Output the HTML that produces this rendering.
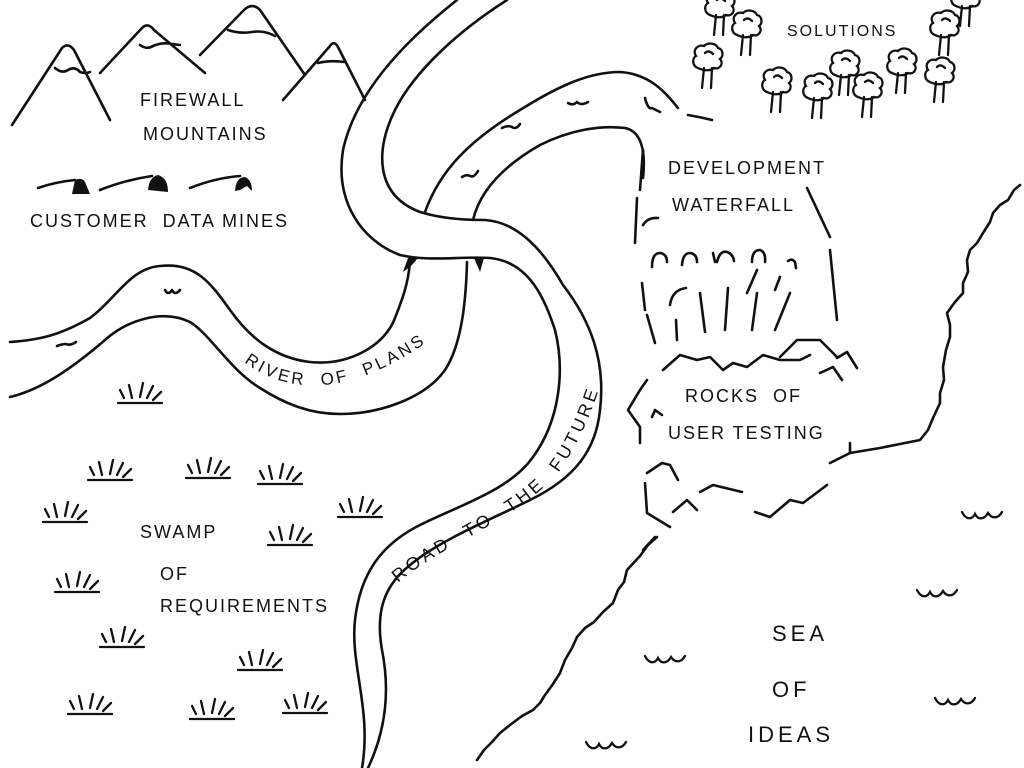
<!DOCTYPE html>
<html><head><meta charset="utf-8"><style>
html,body{margin:0;padding:0;background:#fff;}
svg{display:block}
text{font-family:"Liberation Sans",sans-serif;fill:#111;font-size:18px;letter-spacing:2px}
</style></head><body>
<svg width="1024" height="768" viewBox="0 0 1024 768" xmlns="http://www.w3.org/2000/svg">
<defs>
<g id="tree" fill="none" stroke="#111" stroke-width="2.3" stroke-linecap="round">
<path d="M-4,10 L-6,30 M4,10 L3,30 M-10,10 C-16,8 -16,0 -12,-2 C-16,-8 -10,-14 -4,-12 C0,-16 8,-15 10,-10 C15,-9 16,-2 12,1 C16,5 12,12 6,10 C3,13 -4,13 -10,10 Z M-3,-5 C0,-8 3,-6 5,-4"/>
</g>
<g id="tuft" fill="none" stroke="#111" stroke-width="2.3" stroke-linecap="round">
<path d="M-22,0 L22,0 M-16,-5 L-20,-13 M-8,-5 L-11,-18 M0,-6 L3,-20 M7,-5 L13,-17 M13,-3 L21,-11"/>
</g>
<g id="wave" fill="none" stroke="#111" stroke-width="2.3" stroke-linecap="round">
<path d="M0,0 C4,8 10,8 13,2 C16,8 22,8 26,1 C30,7 36,7 40,0"/>
</g>
</defs>
<g fill="none" stroke="#111" stroke-width="2.6" stroke-linecap="round" stroke-linejoin="round">
<path d="M12,125 L62,48 Q68,42 74,50 L110,120"/>
<path d="M55,68 Q62,74 68,70 Q75,66 80,72 Q86,74 90,72"/>
<path d="M100,73 L142,28 Q148,22 154,30 L205,73"/>
<path d="M140,45 Q147,50 153,46 Q162,42 172,44 L180,45"/>
<path d="M200,55 L244,10 Q252,2 260,10 L305,75"/>
<path d="M228,30 Q240,34 252,32 Q264,30 275,36"/>
<path d="M283,100 L330,46 Q334,40 338,47 L365,100"/>
<path d="M318,63 Q330,60 345,62"/>
<path d="M38,188 Q55,182 75,180"/><path d="M100,190 Q125,180 152,176"/><path d="M190,188 Q215,178 240,176"/>
</g>
<g fill="#111">
<path d="M72,194 L75,180 Q82,177 85,182 L90,194 Z"/>
<path d="M148,190 Q149,177 158,175 Q168,178 168,192 Z"/>
<path d="M235,191 Q236,177 245,177 Q252,180 252,191 L247,186 L240,190 Z"/>
<path d="M403,272 L408,258 L418,258 L411,266 Z"/>
<path d="M474,258 L484,258 L480,272 Z"/>
</g>
<g fill="none" stroke="#111" stroke-width="2.6" stroke-linecap="round" stroke-linejoin="round">
<path d="M10,342 C40,340 60,335 90,318 C115,300 130,268 160,266 C195,262 210,282 230,310 C250,338 275,358 310,362 C350,366 385,345 395,318 C402,300 408,285 410,262"/>
<path d="M10,397 C40,390 70,370 105,340 C125,322 160,308 190,322 C210,334 230,370 260,388 C285,404 310,414 340,414 C380,414 425,398 445,370 C462,344 466,300 467,262"/>
<path d="M457,0 C400,45 355,95 343,150 C335,200 360,240 400,255 C430,262 460,256 490,258 C530,262 545,300 555,330 C565,370 560,420 533,457 C510,490 460,505 420,525 C380,545 360,575 355,620 C350,665 372,710 362,768"/>
<path d="M507,0 C460,30 415,70 395,110 C375,150 375,195 420,212 C440,218 460,220 485,220 C515,222 540,245 563,285 C590,320 606,360 600,410 C596,450 575,478 530,500 C490,520 440,540 410,565 C385,585 375,610 382,650 C390,690 386,730 368,768"/>
<path d="M425,212 C440,170 470,140 520,110 C560,85 590,72 620,72 C650,74 665,92 678,108"/>
<path d="M473,220 C480,190 505,165 540,145 C570,130 600,125 625,128 C645,132 645,160 643,178"/>
<path d="M688,115 Q700,117 712,120"/>
<path d="M643,150 L640,190 M637,198 L635,243 M642,283 L645,310 M647,315 L655,343"/>
<path d="M807,188 L830,237 M830,250 L837,320"/>
<path d="M643,225 Q648,217 658,218"/>
<path d="M652,267 Q652,253 660,253 Q667,254 667,262"/>
<path d="M682,265 Q683,253 690,253 Q697,254 697,262"/>
<path d="M717,262 Q720,250 727,252 Q733,254 734,261 M713,253 L715,262"/>
<path d="M752,262 Q752,250 760,250 Q766,252 765,262"/>
<path d="M788,261 Q792,258 795,262 L796,268"/>
<path d="M670,305 Q672,290 686,288 M677,340 L676,320"/>
<path d="M700,293 L705,332"/><path d="M728,288 L725,330"/><path d="M757,293 L752,330"/><path d="M790,293 L775,330"/>
<path d="M757,270 L747,293"/><path d="M780,277 L775,290"/>
<path d="M663,370 L680,355 L697,360 L710,357 L723,370 L733,363 L747,367 L763,355 L780,360 L800,360 L810,355"/>
<path d="M780,357 L797,340 L820,340 L833,353 L837,357"/>
<path d="M837,358 L847,352 L857,368"/>
<path d="M820,373 L833,367 L842,380"/>
<path d="M647,380 L640,390 L628,410 L640,427 L640,443"/>
<path d="M652,417 L655,410 L662,415"/>
<path d="M647,473 L662,463 L670,465 L678,480"/>
<path d="M645,483 L647,513 L670,527"/>
<path d="M673,512 L687,500 L697,510"/>
<path d="M700,492 L713,485 L742,492"/>
<path d="M755,512 L770,517 L790,500 L803,503 L827,485"/>
<path d="M643,550 L655,537"/>
<path d="M1020,185 L1014,190 L1008,200 L1000,205 L993,213 L990,222 L983,233 L977,243 L970,250 L967,260 L968,272 L963,283 L963,293 L955,302 L947,313 L950,325 L950,337 L946,350 L943,367 L944,380 L940,393 L940,403 L933,418 L928,430 L920,440 L900,444 L880,448 L850,453 L830,463"/>
<path d="M850,443 L850,453"/>
<path d="M657,537 L648,545 L640,556 L627,570 L624,582 L618,590 L613,603 L603,612 L594,622 L585,628 L577,637 L572,648 L565,660 L560,673 L553,684 L545,695 L540,703 L533,710 L522,716 L510,725 L500,733 L492,742 L484,750 L477,760"/>
<path d="M165,290 Q168,296 172,290 Q175,296 180,290"/>
<path d="M57,346 Q62,344 66,344 Q70,346 76,342"/>
<path d="M462,177 Q467,174 470,176 Q474,178 478,171"/>
<path d="M502,128 Q508,125 512,127 Q516,130 520,124"/>
<path d="M568,103 Q573,106 577,102 Q581,106 588,102"/>
<path d="M645,98 Q648,110 652,108 L660,112"/>
</g>
<use href="#tree" x="720" y="5"/>
<use href="#tree" x="747" y="25"/>
<use href="#tree" x="708" y="58"/>
<use href="#tree" x="777" y="82"/>
<use href="#tree" x="818" y="88"/>
<use href="#tree" x="845" y="65"/>
<use href="#tree" x="868" y="87"/>
<use href="#tree" x="902" y="63"/>
<use href="#tree" x="940" y="72"/>
<use href="#tree" x="945" y="25"/>
<use href="#tree" x="966" y="-4"/>
<use href="#tuft" x="140" y="403"/>
<use href="#tuft" x="110" y="480"/>
<use href="#tuft" x="208" y="478"/>
<use href="#tuft" x="280" y="484"/>
<use href="#tuft" x="65" y="522"/>
<use href="#tuft" x="360" y="517"/>
<use href="#tuft" x="290" y="545"/>
<use href="#tuft" x="77" y="592"/>
<use href="#tuft" x="122" y="647"/>
<use href="#tuft" x="260" y="670"/>
<use href="#tuft" x="90" y="714"/>
<use href="#tuft" x="212" y="719"/>
<use href="#tuft" x="305" y="713"/>
<use href="#wave" x="962" y="512"/>
<use href="#wave" x="917" y="590"/>
<use href="#wave" x="645" y="656"/>
<use href="#wave" x="935" y="698"/>
<use href="#wave" x="586" y="742"/>
<text x="140" y="106">FIREWALL</text>
<text x="143" y="140">MOUNTAINS</text>
<text x="30" y="227">CUSTOMER&#160;&#160;DATA MINES</text>
<text x="787" y="36" style="font-size:16px">SOLUTIONS</text>
<text x="668" y="174">DEVELOPMENT</text>
<text x="672" y="211">WATERFALL</text>
<text x="685" y="402">ROCKS&#160;&#160;OF</text>
<text x="668" y="439">USER TESTING</text>
<text x="140" y="538">SWAMP</text>
<text x="160" y="580">OF</text>
<text x="160" y="612">REQUIREMENTS</text>
<text x="772" y="641" style="font-size:22px;letter-spacing:4px">SEA</text>
<text x="772" y="697" style="font-size:22px;letter-spacing:4px">OF</text>
<text x="748" y="742" style="font-size:22px;letter-spacing:4px">IDEAS</text>
<path id="rp" d="M244,362 Q320,418 430,340" fill="none"/>
<text style="font-size:17px;letter-spacing:3px"><textPath href="#rp">RIVER&#160;&#160;OF&#160;&#160;PLANS</textPath></text>
<path id="rf" d="M398,583 C440,545 520,520 560,470 Q585,435 602,380" fill="none"/>
<text style="font-size:18px;letter-spacing:3.5px"><textPath href="#rf">ROAD&#160;&#160;TO&#160;&#160;THE&#160;&#160;FUTURE</textPath></text>
</svg>
</body></html>
